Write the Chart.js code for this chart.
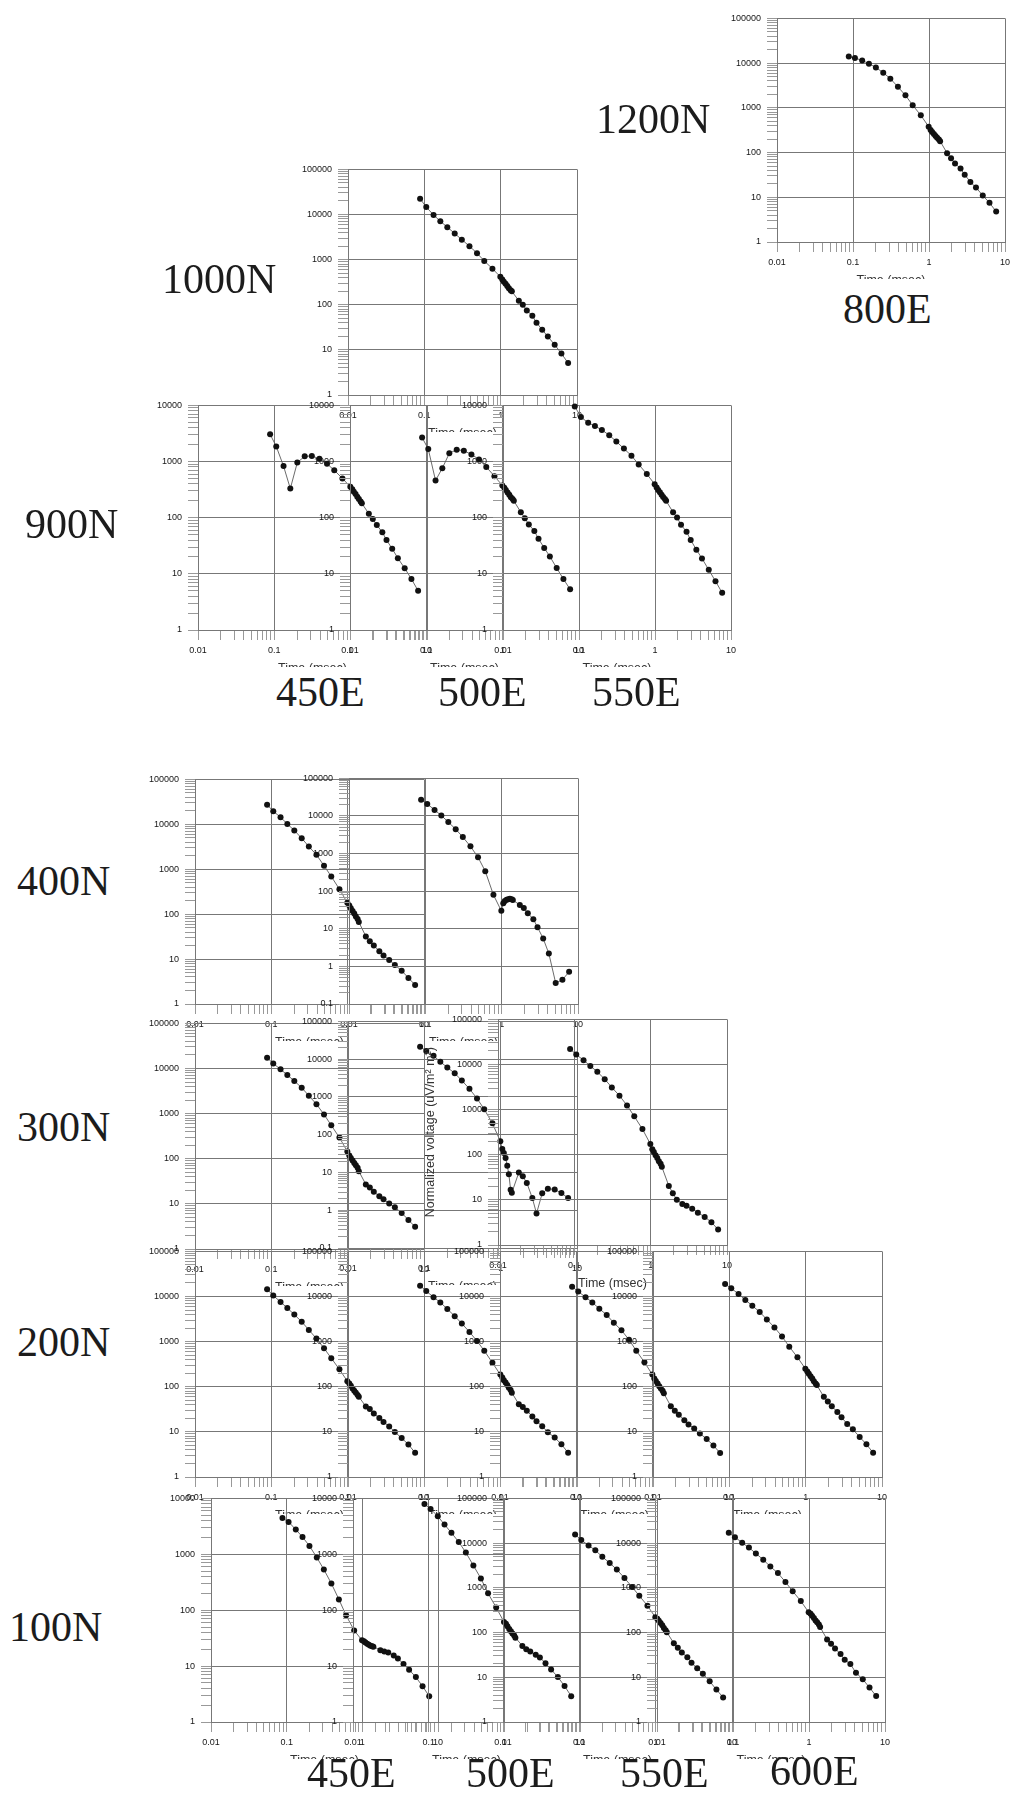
<!DOCTYPE html>
<html>
<head>
<meta charset="utf-8">
<script src="https://cdn.jsdelivr.net/npm/chart.js@4.4.1/dist/chart.umd.min.js"></script>
<style>
  html, body { margin: 0; padding: 0; background: #fff; }
  body { position: relative; width: 1013px; height: 1802px; overflow: hidden; }
  canvas { position: absolute; }
  .site {
    position: absolute;
    font-family: "Liberation Serif", "DejaVu Serif", serif;
    font-size: 42px;
    line-height: 42px;
    color: #1c1c1c;
    white-space: nowrap;
  }
</style>
</head>
<body>
<script>
// gate times in msec, the same for every sounding
const times = [0.088, 0.106, 0.132, 0.162, 0.2, 0.25, 0.31, 0.39, 0.49, 0.61, 0.78, 0.99,
               1.05, 1.1, 1.16, 1.22, 1.28, 1.35, 1.4,
               1.73, 1.95, 2.2, 2.6, 2.95, 3.5, 4.15, 5.1, 6.25, 7.65];

// normalized voltage per station (uV/m2 m2)
const n1200_e800 = [14000, 13000, 11500, 9700, 8000, 6100, 4500, 2950, 1900, 1150, 680, 380,
                    320, 290, 260, 235, 215, 195, 180, 97, 75, 57, 44, 32, 22, 16.5, 11, 7.5, 4.8];
const n1000 = [22400, 14600, 9800, 7100, 5250, 3800, 2770, 1990, 1390, 935, 631, 417,
               364, 324, 293, 261, 232, 210, 198, 123, 100, 75, 57, 40, 28, 19.7, 13, 8.3, 5.1];
const n900_e450 = [3060, 1860, 830, 330, 960, 1240, 1260, 1120, 910, 700, 500, 355,
                   320, 290, 265, 237, 215, 194, 180, 118, 95, 74, 55, 40, 28, 19, 12.6, 8.1, 5.0];
const n900_e500 = [2680, 1670, 460, 760, 1400, 1630, 1560, 1340, 1090, 800, 550, 375,
                   340, 310, 280, 255, 232, 215, 200, 125, 98, 76, 58, 42, 29, 20.4, 12.7, 8.1, 5.3];
const n900_e550 = [9600, 6200, 4900, 4300, 3650, 2950, 2270, 1700, 1270, 890, 600, 395,
                   345, 310, 285, 257, 233, 215, 200, 125, 101, 75, 56, 40, 27, 18.8, 11.8, 7.4, 4.6];
const n400_a = [27400, 19500, 14400, 10200, 7300, 4900, 3200, 2100, 1200, 690, 360, 180,
                155, 135, 118, 103, 89, 78, 67, 32, 25, 20, 15, 12, 9.6, 7.4, 5.5, 3.8, 2.66];
const n400_b = [27000, 21000, 14500, 10300, 6900, 4450, 2750, 1560, 800, 340, 80, 30,
                48, 55, 59, 61, 63, 61, 58, 43, 36, 26, 18, 11, 5.5, 2.2, 0.36, 0.44, 0.72];
const n300_a = [17300, 12900, 9600, 7200, 5300, 3750, 2500, 1620, 960, 550, 295, 145,
                118, 104, 91, 81, 72, 63, 53, 27, 23, 18.5, 14.8, 12.6, 10.2, 8.4, 6.3, 4.4, 3.1];
const n300_b = [21400, 16500, 12300, 8500, 6060, 4230, 2720, 1640, 910, 470, 200, 67,
                42, 33, 24, 15, 9, 3.5, 2.9, 10, 7.9, 5.3, 2.1, 0.82, 2.8, 3.7, 3.56, 2.85, 2.1];
const n300_c = [22100, 16600, 12500, 9300, 6900, 4730, 3110, 2040, 1240, 710, 370, 174,
                133, 115, 97, 85, 72, 63, 54, 20.4, 14.1, 10.1, 8.1, 7.4, 6.4, 5.2, 4.2, 3.2, 2.2];
const n200_a = [14500, 10500, 7600, 5560, 3980, 2760, 1820, 1170, 715, 430, 243, 133,
                118, 105, 92, 82, 74, 66, 60, 36.6, 32, 25.4, 20.4, 16.6, 13.2, 9.9, 7.3, 5.25, 3.45];
const n200_b = [17400, 13200, 9660, 7400, 5300, 3670, 2520, 1640, 1030, 630, 340, 186,
                160, 140, 124, 109, 95, 85, 74, 41, 35.5, 29.5, 22, 17.2, 13.4, 9.8, 7.5, 5.3, 3.45];
const n200_c = [16500, 12900, 9660, 7400, 5380, 3900, 2620, 1790, 1100, 630, 350, 186,
                152, 135, 118, 103, 92, 82, 71.5, 37, 29.5, 24, 18.2, 14.6, 11.9, 9.2, 6.95, 5.0, 3.4];
const n200_d = [19000, 15200, 11400, 8400, 6250, 4550, 3100, 2070, 1300, 775, 450, 252,
                219, 195, 171, 152, 133, 118, 109, 60, 47, 37, 27.5, 21, 15, 11.4, 7.7, 5.3, 3.45];
const n100_a = [4450, 3800, 2770, 2040, 1410, 880, 535, 300, 156, 81, 43.5, 29,
                27.7, 26.3, 25, 24, 23.2, 22.7, 22.3, 19.3, 18.2, 17.6, 15.5, 13.7, 10.9, 8.6, 6.35, 4.36, 2.9];
const n100_b = [7950, 6470, 4790, 3400, 2420, 1660, 1075, 630, 370, 200, 112, 61.5,
                57.5, 51.5, 46, 42, 38.3, 35.3, 32.3, 23, 20, 18.3, 15.9, 14.3, 11.2, 8.7, 6.35, 4.4, 2.9];
const n100_c = [15600, 11700, 8900, 6900, 4950, 3590, 2560, 1660, 1050, 665, 400, 220,
                203, 184, 164, 145, 127, 113, 102, 57.5, 46, 36, 28, 21, 15.9, 12, 8.1, 5.3, 3.55];
const n100_d = [17000, 13600, 10200, 7950, 5860, 4260, 2990, 2140, 1350, 840, 507, 285,
                263, 237, 211, 187, 170, 151, 133, 70, 56.5, 44, 33, 24.7, 19.8, 12.6, 9, 5.9, 3.8];

// axis ranges
const xRange = [0.01, 10];
const yRange4 = [1, 10000];
const yRange5 = [1, 100000];
const yRange6 = [0.1, 100000];

const xTitle = 'Time (msec)';
const yTitle = 'Normalized voltage (uV/m\u00b2 m\u00b2)';

// where each little plot sits on the sheet (plot area, px)
const panels = [
  { data: n1200_e800, y: yRange5, left: 776.7, top: 15,   w: 228, h: 227 },
  { data: n1000,      y: yRange5, left: 347.7, top: 166,  w: 229, h: 229 },
  { data: n900_e450,  y: yRange4, left: 198,   top: 402,  w: 229, h: 228 },
  { data: n900_e500,  y: yRange4, left: 350,   top: 402,  w: 229, h: 228 },
  { data: n900_e550,  y: yRange4, left: 503,   top: 402,  w: 228, h: 228 },
  { data: n400_a,     y: yRange5, left: 195.3, top: 776,  w: 229, h: 228 },
  { data: n400_b,     y: yRange6, left: 348.7, top: 775,  w: 229, h: 229 },
  { data: n300_a,     y: yRange5, left: 195,   top: 1020, w: 229, h: 229 },
  { data: n300_b,     y: yRange6, left: 348.3, top: 1018, w: 229, h: 230 },
  { data: n300_c,     y: yRange5, left: 498,   top: 1016, w: 229, h: 229, titled: true },
  { data: n200_a,     y: yRange5, left: 195,   top: 1248, w: 229, h: 228.5 },
  { data: n200_b,     y: yRange5, left: 348.3, top: 1248, w: 229, h: 228.5 },
  { data: n200_c,     y: yRange5, left: 500,   top: 1248, w: 229, h: 228.5 },
  { data: n200_d,     y: yRange5, left: 652.7, top: 1248, w: 229, h: 228.5 },
  { data: n100_a,     y: yRange4, left: 211,   top: 1495, w: 227, h: 227 },
  { data: n100_b,     y: yRange4, left: 352.7, top: 1495, w: 227, h: 227 },
  { data: n100_c,     y: yRange5, left: 503,   top: 1495, w: 229, h: 227 },
  { data: n100_d,     y: yRange5, left: 657.3, top: 1495, w: 228, h: 227 }
];

const siteLabels = [
  { text: '1200N', x: 596, y: 98 },
  { text: '800E',  x: 843, y: 288 },
  { text: '1000N', x: 162, y: 258 },
  { text: '900N',  x: 25,  y: 503 },
  { text: '450E',  x: 276, y: 671 },
  { text: '500E',  x: 438, y: 671 },
  { text: '550E',  x: 592, y: 671 },
  { text: '400N',  x: 17,  y: 860 },
  { text: '300N',  x: 17,  y: 1106 },
  { text: '200N',  x: 17,  y: 1321 },
  { text: '100N',  x: 9,   y: 1606 },
  { text: '450E',  x: 307, y: 1752 },
  { text: '500E',  x: 466, y: 1752 },
  { text: '550E',  x: 620, y: 1752 },
  { text: '600E',  x: 770, y: 1750 }
];

const GRID = '#777';
const TICK = '#999';
const tickFont = { family: '"Liberation Sans", Arial, sans-serif', size: 9 };

function logTicks(lo, hi) {
  const out = [];
  const e0 = Math.round(Math.log10(lo)), e1 = Math.round(Math.log10(hi));
  for (let e = e0; e < e1; e++) {
    for (let k = 1; k <= 9; k++) {
      out.push({ value: +(k * Math.pow(10, e)).toPrecision(6), major: k === 1 });
    }
  }
  out.push({ value: hi, major: true });
  return out;
}

function decadeLabel(v, i, ticks) {
  if (!ticks[i].major) return '';
  return v < 1 ? String(+v.toPrecision(3)) : String(Math.round(v));
}

// x title sits under the tick labels; the canvas edge cuts it like the pasted plots
const timeTitle = {
  id: 'timeTitle',
  afterDraw(chart) {
    const a = chart.chartArea, ctx = chart.ctx;
    ctx.save();
    ctx.font = '12.5px "Liberation Sans", Arial, sans-serif';
    ctx.fillStyle = '#333';
    ctx.textAlign = 'center';
    ctx.textBaseline = 'middle';
    ctx.fillText(xTitle, (a.left + a.right) / 2, a.bottom + 38.5);
    ctx.restore();
  }
};

function gridOpts() {
  return {
    color: c => (c.tick && c.tick.major) ? GRID : 'rgba(0,0,0,0)',
    tickColor: TICK,
    tickLength: 10,
    lineWidth: 1
  };
}

function makePanel(p) {
  const padL = 84, padR = 12, padT = 8, padB = p.titled ? 54 : 37;
  const W = Math.round(padL + p.w + padR), H = Math.round(padT + p.h + padB);
  const cv = document.createElement('canvas');
  cv.width = W; cv.height = H;
  cv.style.width = W + 'px'; cv.style.height = H + 'px';
  cv.style.left = (p.left - padL) + 'px';
  cv.style.top = (p.top - padT) + 'px';
  document.body.appendChild(cv);

  new Chart(cv, {
    type: 'line',
    data: {
      datasets: [{
        data: times.map((t, i) => ({ x: t, y: p.data[i] })),
        borderColor: '#5a5a5a',
        borderWidth: 0.9,
        pointRadius: 3,
        pointHoverRadius: 3,
        pointBackgroundColor: '#111',
        pointBorderWidth: 0,
        tension: 0,
        clip: false
      }]
    },
    options: {
      responsive: false,
      animation: false,
      devicePixelRatio: 1,
      events: [],
      layout: { padding: { left: 0, right: padR, top: padT, bottom: 0 } },
      plugins: { legend: { display: false }, tooltip: { enabled: false } },
      scales: {
        x: {
          type: 'logarithmic',
          position: 'bottom',
          min: xRange[0], max: xRange[1],
          afterBuildTicks: s => { s.ticks = logTicks(xRange[0], xRange[1]); },
          afterFit: s => { s.height = padB; },
          grid: gridOpts(),
          border: { color: GRID, width: 1 },
          ticks: { autoSkip: false, maxRotation: 0, padding: 5, font: tickFont, color: '#151515', callback: decadeLabel }
        },
        y: {
          type: 'logarithmic',
          position: 'left',
          min: p.y[0], max: p.y[1],
          afterBuildTicks: s => { s.ticks = logTicks(p.y[0], p.y[1]); },
          afterFit: s => { s.width = padL; },
          grid: gridOpts(),
          border: { color: GRID, width: 1 },
          title: {
            display: !!p.titled,
            text: yTitle,
            color: '#333',
            font: { family: '"Liberation Sans", Arial, sans-serif', size: 12.5 },
            padding: { top: 9, bottom: 0 }
          },
          ticks: { autoSkip: false, padding: 6, font: tickFont, color: '#151515', callback: decadeLabel }
        }
      }
    },
    plugins: [timeTitle]
  });
}

panels.forEach(makePanel);

siteLabels.forEach(l => {
  const d = document.createElement('div');
  d.className = 'site';
  d.textContent = l.text;
  d.style.left = l.x + 'px';
  d.style.top = l.y + 'px';
  document.body.appendChild(d);
});
</script>
</body>
</html>
